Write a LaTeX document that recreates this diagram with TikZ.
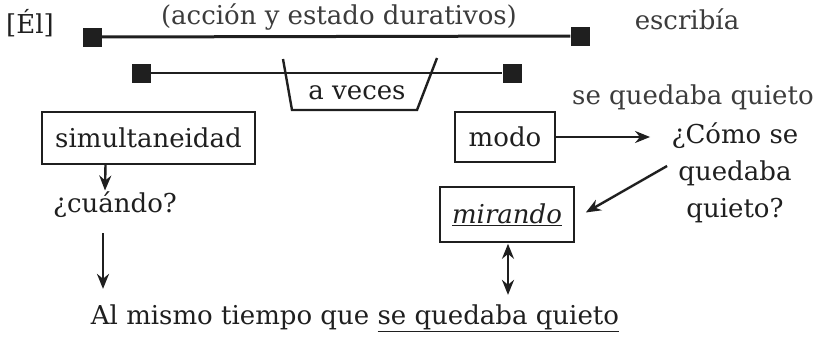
\documentclass[tikz,border=0pt]{standalone}
\usepackage{fontspec}
\setmainfont{DejaVu Serif}
\usetikzlibrary{arrows.meta}
\definecolor{ink}{HTML}{1F1F1F}
\definecolor{soft}{HTML}{3C3C3C}

\tikzset{
  box/.style={draw=ink, line width=1.6pt, inner sep=0pt},
  endsq/.style={fill=ink, minimum size=19pt, inner sep=0pt},
  bar/.style={draw=ink, line width=3pt},
  light/.style={text=soft},
  tip/.style={draw=ink, line width=2.4pt, -{Stealth[length=15pt,width=12pt]}},
  dtip/.style={draw=ink, line width=2.4pt, {Stealth[length=15pt,width=12pt]}-{Stealth[length=15pt,width=12pt]}},
}

\begin{document}
\begin{tikzpicture}[x=1pt,y=-1pt, font=\fontsize{26}{37}\selectfont, text=ink]
    \useasboundingbox (0,0) rectangle (823,340);
    % top: the two time lines
    \node (el) at (30,23) {[Él]};
    \node[endsq] (a1) at (92,37) {};
    \node[endsq] (a2) at (580,36) {};
    \draw[bar] (a1) -- (a2);
    \node[light] (dur) at (339,17) {(acción y estado durativos)};
    \node[light] (escr) at (687,19) {escribía};
    \node[endsq] (b1) at (141,73) {};
    \node[endsq] (b2) at (512,73) {};
    \draw[bar, line width=2.6pt] (b1) -- (b2);
    \coordinate (t1) at (283,59);
    \coordinate (t2) at (292,110);
    \coordinate (t3) at (417,110);
    \coordinate (t4) at (437,58);
    \draw[ink, line width=2.4pt] (t1) -- (t2) -- (t3) -- (t4);
    \node (veces) at (357,93) {a veces};
    \node[light] (sqq) at (693,97) {se quedaba quieto};
    % left column
    \node[box, minimum width=213pt, minimum height=52pt] (sim) at (148.5,138) {simultaneidad};
    \node (cuando) at (115,205) {¿cuándo?};
    \node (al) at (355,318) {Al mismo tiempo que \underline{se quedaba quieto}};
    \draw[tip] ([xshift=-43pt]sim.south) -- ([xshift=-10pt,yshift=-2pt]cuando.north);
    \draw[tip] ([xshift=-12pt,yshift=-12pt]cuando.south) -- ([xshift=-252pt,yshift=12pt]al.north);
    % right column
    \node[box, minimum width=100pt, minimum height=50pt] (modo) at (505,137) {modo};
    \node[align=center] (como) at (735,173) {¿Cómo se\\quedaba\\quieto?};
    \node[box, minimum width=134pt, minimum height=55pt] (mir) at (507,214.5) {\underline{\textit{mirando}}};
    \draw[tip] (modo.east) -- ([xshift=-18pt]como.west |- modo.east);
    \draw[tip] ([xshift=-1pt,yshift=7pt]como.west) -- ([xshift=11pt,yshift=2pt]mir.east);
    \draw[dtip] ([xshift=1pt,yshift=-1pt]mir.south) -- ([xshift=1pt,yshift=6pt]mir.south |- al.north);
\end{tikzpicture}
\end{document}
